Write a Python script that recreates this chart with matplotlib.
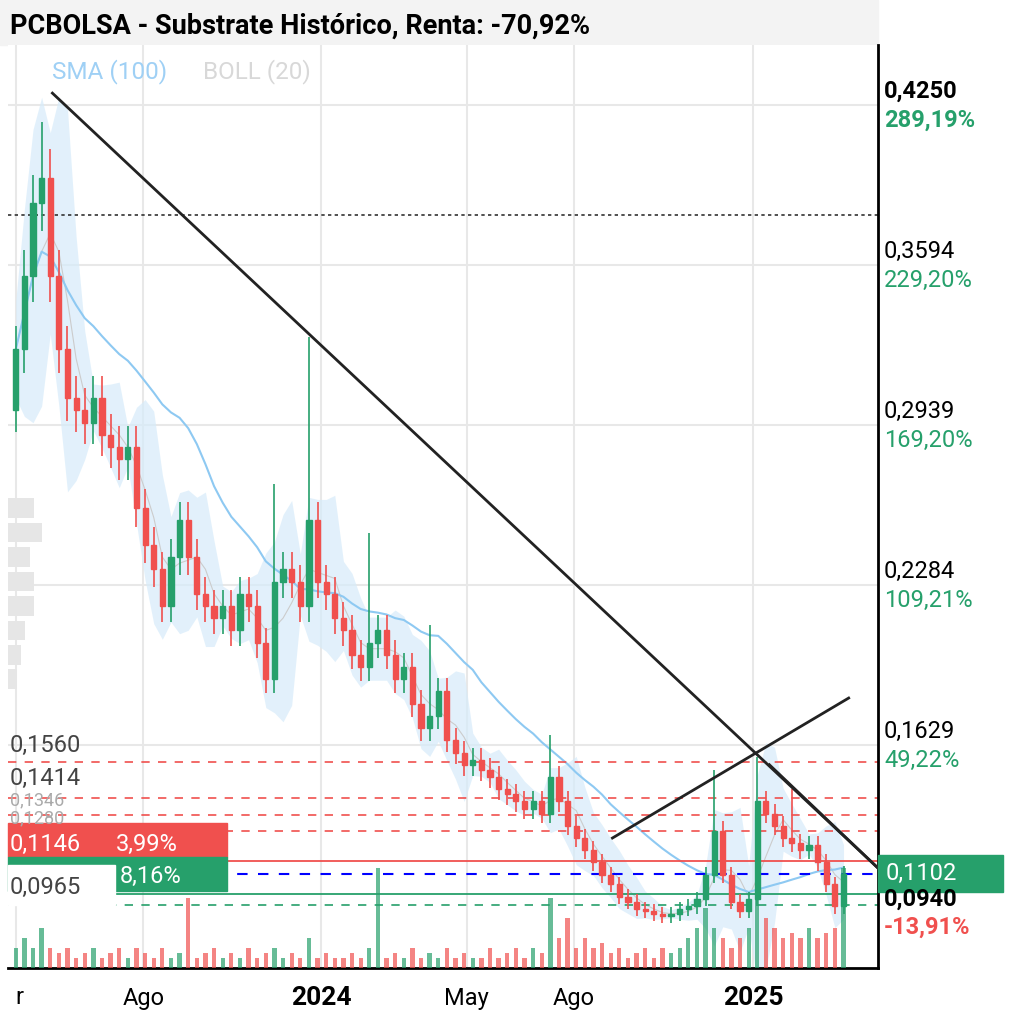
import numpy as np
import pandas as pd
import matplotlib.pyplot as plt
from matplotlib.patches import Rectangle

# weekly closes
closes = [0.325, 0.355, 0.385, 0.395, 0.355, 0.325, 0.305, 0.300, 0.295, 0.305,
          0.290, 0.285, 0.280, 0.285, 0.260, 0.245, 0.235, 0.220, 0.240, 0.255,
          0.240, 0.225, 0.220, 0.215, 0.220, 0.210, 0.225, 0.220, 0.205, 0.190,
          0.230, 0.235, 0.230, 0.220, 0.255, 0.230, 0.225, 0.215, 0.210, 0.200,
          0.195, 0.205, 0.210, 0.200, 0.190, 0.195, 0.180, 0.170, 0.175, 0.185,
          0.165, 0.160, 0.155, 0.157, 0.153, 0.150, 0.145, 0.143, 0.140, 0.137,
          0.140, 0.135, 0.150, 0.140, 0.130, 0.125, 0.120, 0.115, 0.110, 0.106,
          0.101, 0.099, 0.096, 0.095, 0.094, 0.093, 0.094, 0.096, 0.097, 0.100,
          0.110, 0.128, 0.110, 0.099, 0.095, 0.100, 0.140, 0.135, 0.130, 0.125,
          0.123, 0.120, 0.122, 0.115, 0.106, 0.097, 0.1102]
first_open = 0.300
spike_idx = [3, 30, 34, 41, 48, 62, 81, 86, 90]
spike_high = [0.418, 0.270, 0.330, 0.250, 0.212, 0.167, 0.153, 0.158, 0.145]
volumes = [2, 3, 2, 4, 2, 1.5, 2, 1, 1.5, 2, 1, 1.5, 2, 1, 2, 1.5, 1, 2, 1, 1.5,
           7, 1, 1.5, 2, 1, 1.5, 1, 2, 1, 1.5, 2, 1, 1.5, 1, 3, 1, 1.5, 1, 1, 1.5,
           1, 2, 10, 1, 1.5, 1, 2, 1, 1.5, 1, 2, 1, 1.5, 1, 1, 2, 1, 1.5, 2, 1,
           2, 1.5, 7, 3, 5, 2, 3, 2, 2.5, 1.5, 2, 1, 1.5, 2, 1, 2, 1.5, 2, 3, 4,
           6, 4, 3, 2, 3, 4, 9, 5, 4, 3, 3.5, 3, 4, 3, 3.5, 4, 10]
levels_red = [0.1560, 0.1414, 0.1346, 0.1280]
resist_red = 0.1158
current = 0.1102
support_green = 0.1019
support_dash = 0.0975
right_ticks = [0.4250, 0.3594, 0.2939, 0.2284, 0.1629]
right_pct = ['289,19%', '229,20%', '169,20%', '109,21%', '49,22%']
xtick_pos = [0, 14.8, 35.4, 52.3, 64.7, 85.5]
xtick_lab = ['r', 'Ago', '2024', 'May', 'Ago', '2025']
profile_p = [0.26, 0.25, 0.24, 0.23, 0.22, 0.21, 0.20, 0.19]
profile_w = [3.0, 4.0, 2.5, 3.0, 3.0, 2.0, 1.5, 1.0]

GREEN = '#26a06b'
RED = '#f0504e'
W, H = 1020, 1025
fig = plt.figure(figsize=(W / 100, H / 100), dpi=100)
plt.rcParams['font.family'] = ['Roboto', 'DejaVu Sans']
L, R, T, B = 8, 878, 45, 968
ax = fig.add_axes([L / W, 1 - B / H, (R - L) / W, (B - T) / H])
xmin, xmax = -0.9, 100
ymin, ymax = 0.0718, 0.4496
ax.set_xlim(xmin, xmax)
ax.set_ylim(ymin, ymax)

c = np.array(closes)
o = np.concatenate([[first_open], c[:-1]])
x = np.arange(len(c))
hi = np.maximum(o, c) * 1.03
lo = np.minimum(o, c) * 0.97
for i, h in zip(spike_idx, spike_high):
    hi[i] = h

# bollinger + sma
s = pd.Series(c)
mid = s.rolling(4, min_periods=1).mean()
sd = s.rolling(4, min_periods=1).std().fillna(0.01)
ax.fill_between(x, mid - 2 * sd, mid + 2 * sd, color='#d6ebfa', alpha=0.7, lw=0)
ax.plot(x, mid, color='#cccccc', lw=0.8)
sma = s.rolling(20, min_periods=1).mean()
ax.plot(x, sma, color='#8ec9f2', lw=1.5)

# volume profile
ax.barh(profile_p, profile_w, height=0.008, left=xmin, color='#e6e6e6', zorder=1)

for i in range(len(c)):
    col = GREEN if c[i] >= o[i] else RED
    ax.vlines(x[i], lo[i], hi[i], color=col, lw=1.2, zorder=3)
    ax.add_patch(Rectangle((x[i] - 0.3, min(o[i], c[i])), 0.6,
                           max(abs(c[i] - o[i]), 0.001), color=col, zorder=3))

# volume bars
vax = ax.twinx()
vax.set_ylim(0, 92.3)
vax.bar(x, volumes, width=0.5, color=[GREEN if c[i] >= o[i] else RED for i in x], alpha=0.7)
vax.set_yticks([])
for sp in vax.spines.values():
    sp.set_visible(False)

# levels
for p in levels_red:
    ax.axhline(p, color=RED, ls=(0, (5, 5)), lw=1.2, zorder=2)
ax.axhline(resist_red, color=RED, lw=1.3, zorder=2)
ax.axhline(current, color='blue', ls=(0, (5, 5)), lw=1.5, zorder=2)
ax.axhline(support_green, color=GREEN, lw=1.3, zorder=2)
ax.axhline(support_dash, color=GREEN, ls=(0, (5, 5)), lw=1.2, zorder=2)
ax.axhline(0.380, color='#333333', ls=(0, (2, 2)), lw=1.2, zorder=2)

# trend lines
ax.plot([4.25, 100], [0.4299, 0.1127], color='#222222', lw=2, zorder=4)
ax.plot([69.2, 96.6], [0.125, 0.1823], color='#222222', lw=2, zorder=4)
ax.plot([87.4, 100], [0.155, 0.1127], color='#222222', lw=2, zorder=4)

ax.set_xticks(xtick_pos)
ax.set_xticklabels([])
ax.set_yticks(right_ticks)
ax.set_yticklabels([])
ax.tick_params(length=0)
ax.grid(True, color='#e8e8e8', lw=1.5)
ax.set_axisbelow(True)
for sp in ['left', 'top']:
    ax.spines[sp].set_visible(False)
for sp in ['right', 'bottom']:
    ax.spines[sp].set_linewidth(2)

def ft(px, py, s, **kw):
    fig.text(px / W, 1 - py / H, s, va='center', **kw)

# title
fig.patches.append(Rectangle((0, 1 - 45 / H), R / W, 45 / H, transform=fig.transFigure,
                             color='#f3f3f3', zorder=-1))
ft(10, 26, 'PCBOLSA - Substrate Histórico, Renta: -70,92%', fontsize=19.5, fontweight='bold')
ft(52, 72, 'SMA (100)', fontsize=17.5, color='#9fd0f5')
ft(203, 72, 'BOLL (20)', fontsize=17.5, color='#d8d8d8')

# x labels
for p, lab in zip(xtick_pos, xtick_lab):
    px = L + (p - xmin) / (xmax - xmin) * (R - L)
    bold = lab in ('2024', '2025')
    ft(px, 998, lab, fontsize=19 if bold else 17, fontweight='bold' if bold else 'normal',
       ha='left' if lab == 'r' else 'center')

def ypx(p):
    return T + (ymax - p) / (ymax - ymin) * (B - T)

for i, (p, pct) in enumerate(zip(right_ticks, right_pct)):
    w = 'bold' if i == 0 else 'normal'
    ft(884, ypx(p) - 14, f'{p:.4f}'.replace('.', ','), fontsize=17, fontweight=w)
    ft(884, ypx(p) + 15, pct, fontsize=17, fontweight=w, color=GREEN)

# current price box
fig.patches.append(Rectangle((R / W, 1 - 892 / H), 125 / W, 37 / H,
                             transform=fig.transFigure, color=GREEN))
ft(886, 873, '0,1102', fontsize=17, color='white')
ft(884, 899, '0,0940', fontsize=17, fontweight='bold')
ft(884, 927, '-13,91%', fontsize=17, fontweight='bold', color=RED)

# left labels (the reference stacks these closely)
ft(10, 745, '0,1560', fontsize=17, color='#444444')
ft(10, 778, '0,1414', fontsize=17, color='#444444')
ft(10, 800, '0,1346', fontsize=13, color='#aaaaaa')
ft(10, 818, '0,1280', fontsize=13, color='#aaaaaa')
fig.patches.append(Rectangle((L / W, 1 - 857 / H), 219 / W, 34 / H,
                             transform=fig.transFigure, color=RED))
ft(10, 844, '0,1146', fontsize=17, color='white')
ft(116, 844, '3,99%', fontsize=17, color='white')
fig.patches.append(Rectangle((L / W, 1 - 891 / H), 219 / W, 34 / H,
                             transform=fig.transFigure, color=GREEN))
fig.patches.append(Rectangle((L / W, 1 - 905 / H), 107 / W, 40 / H,
                             transform=fig.transFigure, color='white'))
ft(120, 876, '8,16%', fontsize=17, color='white')
ft(10, 887, '0,0965', fontsize=17, color='#444444')

fig.savefig('out.png', dpi=100)
